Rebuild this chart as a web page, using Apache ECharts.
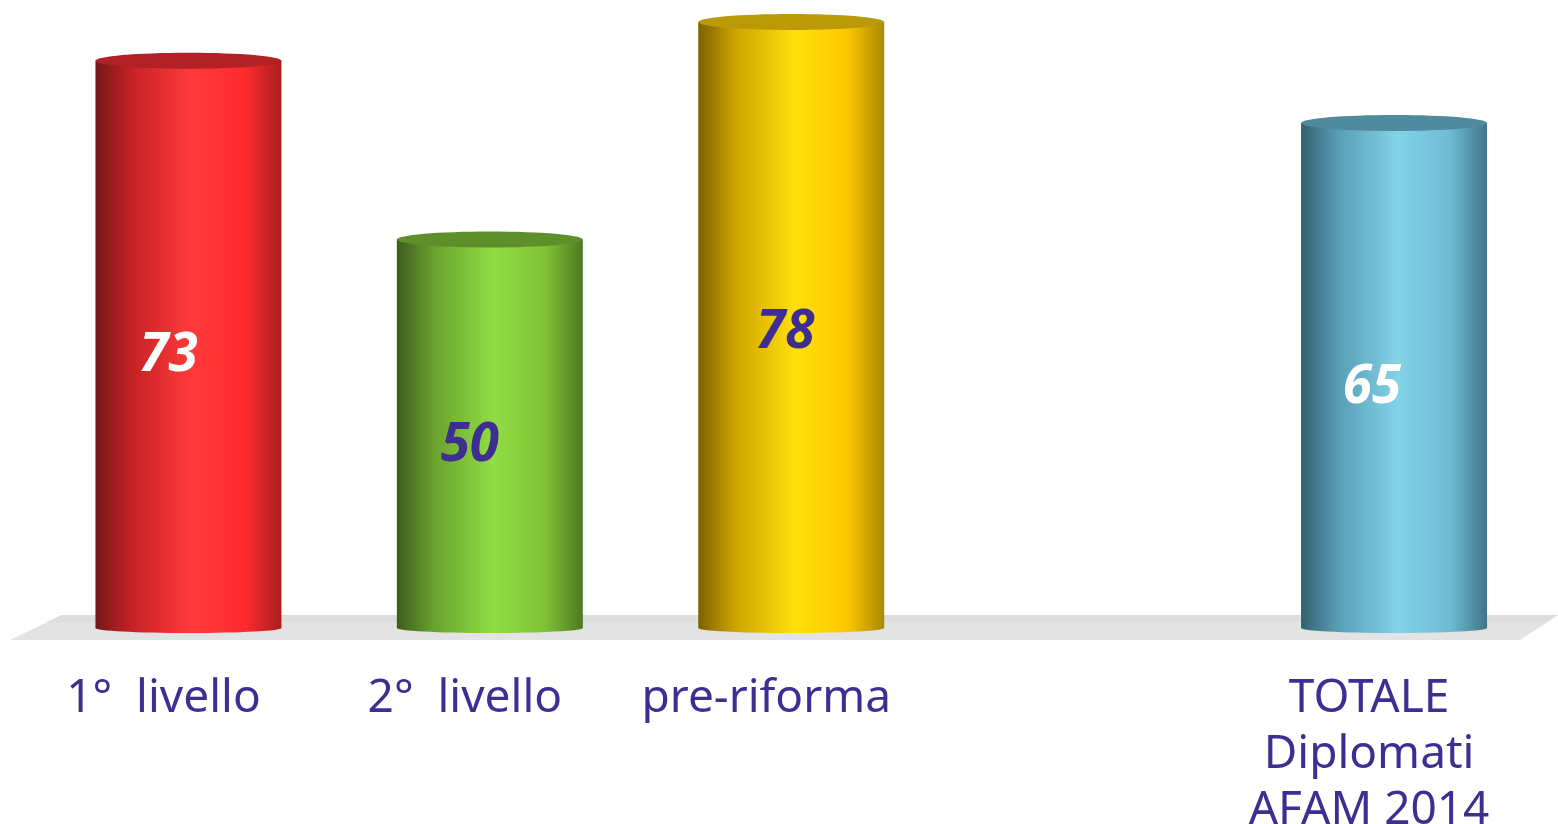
<!DOCTYPE html>
<html>
<head>
<meta charset="utf-8">
<style>
    html, body { margin: 0; padding: 0; background: #fff; }
    #main { width: 1558px; height: 824px; }
</style>
</head>
<body>
<div id="main"></div>
<script src="https://cdn.jsdelivr.net/npm/echarts@6/dist/echarts.min.js"></script>
<script type="text/javascript">
// the fourth slot is the empty gap before the total
var categories = ['1°  livello', '2°  livello', 'pre-riforma', '', 'TOTALE\nDiplomati\nAFAM 2014'];
var values = [73, 50, 78, null, 65];

var purple = '#3f2e91';
var fontName = '"Noto Sans", sans-serif';

// one look per bar: [edge dark, mid, highlight, mid right, edge right, top]
var palettes = [
    ['#741717', '#c82225', '#ff3a3a', '#ff2a2c', '#a81f20', '#b12126'],
    ['#3c5c1c', '#6aa22e', '#90dd44', '#7fc135', '#4d7a24', '#5f8f2a'],
    ['#7c6200', '#cfa400', '#ffe00a', '#fdc700', '#a88a00', '#bb9a08'],
    null,
    ['#33606f', '#579fb5', '#82d2e8', '#6fbcd4', '#3f7486', '#4f8a9e']
];
var labelColors = ['#fff', purple, purple, null, '#fff'];
var labelOffsets = [[-20, 12], [-20, 12], [-6, 8], null, [-22, 12]];

function cylinder(params, api) {
    var idx = api.value(0);
    if (!palettes[idx]) {
        return null;
    }
    var value = api.value(1);
    var top = api.coord([idx, value]);
    var base = api.coord([idx, 0]);
    var halfW = 93;
    var colors = palettes[idx];
    var fill = new echarts.graphic.LinearGradient(0, 0, 1, 0, [
        { offset: 0, color: colors[0] },
        { offset: 0.2, color: colors[1] },
        { offset: 0.52, color: colors[2] },
        { offset: 0.8, color: colors[3] },
        { offset: 1, color: colors[4] }
    ]);
    return {
        type: 'group',
        children: [
            {
                type: 'ellipse',
                shape: { cx: base[0], cy: base[1], rx: halfW, ry: 5 },
                style: { fill: fill }
            },
            {
                type: 'rect',
                shape: { x: base[0] - halfW, y: top[1], width: halfW * 2, height: base[1] - top[1] },
                style: { fill: fill }
            },
            {
                type: 'ellipse',
                shape: { cx: top[0], cy: top[1], rx: halfW, ry: 8 },
                style: { fill: colors[5] }
            },
            {
                type: 'text',
                x: top[0] + labelOffsets[idx][0],
                y: (top[1] + base[1]) / 2 + labelOffsets[idx][1],
                style: {
                    text: String(value),
                    fill: labelColors[idx],
                    font: 'italic bold 53px ' + fontName,
                    align: 'center',
                    verticalAlign: 'middle'
                }
            }
        ]
    };
}

var myChart = echarts.init(document.getElementById('main'));
var option = {
    animation: false,
    backgroundColor: '#fff',
    grid: { left: 37.75, right: 13.25, top: 6.4, bottom: 196, outerBoundsMode: 'none' },
    xAxis: {
        type: 'category',
        data: categories,
        axisLine: { show: false },
        axisTick: { show: false },
        axisLabel: {
            interval: 0,
            margin: 43,
            color: purple,
            fontFamily: fontName,
            fontSize: 46,
            lineHeight: 56,
            padding: [0, 50, 0, 0]
        }
    },
    yAxis: { type: 'value', min: 0, max: 80, show: false },
    // the floor slab under the cylinders
    graphic: [
        {
            type: 'polygon',
            z: 0,
            shape: { points: [[62, 615], [1558, 615], [1520, 640], [10, 640]] },
            style: { fill: '#e3e3e3' }
        },
        {
            type: 'polygon',
            z: 0,
            shape: { points: [[62, 615], [1558, 615], [1547, 622], [46, 622]] },
            style: { fill: '#dddddd' }
        }
    ],
    series: [{
        type: 'custom',
        z: 5,
        renderItem: cylinder,
        encode: { x: 0, y: 1 },
        data: values.map(function (v, i) { return [i, v]; })
    }]
};
myChart.setOption(option);
</script>
</body>
</html>
